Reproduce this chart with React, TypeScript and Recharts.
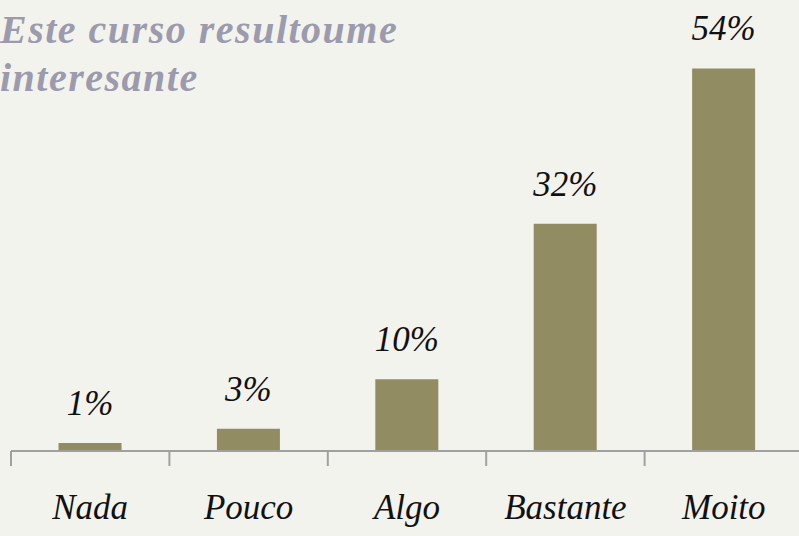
import React from 'react';
import { BarChart, Bar, XAxis, YAxis, LabelList } from 'recharts';

const categories = ['Nada', 'Pouco', 'Algo', 'Bastante', 'Moito'];
const shares = [0.01, 0.03, 0.1, 0.32, 0.54];
const boundaries = [0, 1, 2, 3, 4, 5];
const titleLines = ['Este curso resultoume', 'interesante'];

const data = categories.map((name, i) => ({ name, value: shares[i], pos: i + 0.5 }));

const handFont = "'Liberation Serif', 'DejaVu Serif', serif";
const bg = '#f3f3ee';

export default function App() {
  return (
    <div style={{ position: 'fixed', left: 0, top: 0, width: 799, height: 536, overflow: 'hidden', background: bg }}>
      <BarChart
        width={820}
        height={536}
        data={data}
        margin={{ top: 26, right: 17, left: 11, bottom: 0 }}
        barCategoryGap="30%"
      >
        <XAxis
          dataKey="name"
          height={1}
          axisLine={false}
          tickLine={false}
          interval={0}
          tick={{ fill: '#111', fontSize: 35, fontStyle: 'italic', fontFamily: handFont, dy: 36 }}
        />
        {/* boundary ticks between categories */}
        <XAxis
          xAxisId="edges"
          type="number"
          dataKey="pos"
          domain={[0, 5]}
          ticks={boundaries}
          height={85}
          stroke="#a0a0a0"
          strokeWidth={2}
          tickSize={15}
          tick={() => <g />}
        />
        <YAxis hide domain={[0, 0.6]} />
        <Bar dataKey="value" fill="#918c62" isAnimationActive={false}>
          <LabelList
            dataKey="value"
            position="top"
            offset={28}
            formatter={(v: number) => `${Math.round(v * 100)}%`}
            style={{ fill: '#111', fontSize: 35, fontStyle: 'italic', fontFamily: handFont }}
          />
        </Bar>
      </BarChart>
      <div
        style={{
          position: 'absolute', left: 0, top: 6, color: '#9b9bad',
          fontFamily: handFont, fontStyle: 'italic', fontWeight: 'bold',
          fontSize: 40, lineHeight: '48px', letterSpacing: 1.5, whiteSpace: 'nowrap',
        }}
      >
        {titleLines.map((t) => <div key={t}>{t}</div>)}
      </div>
    </div>
  );
}
